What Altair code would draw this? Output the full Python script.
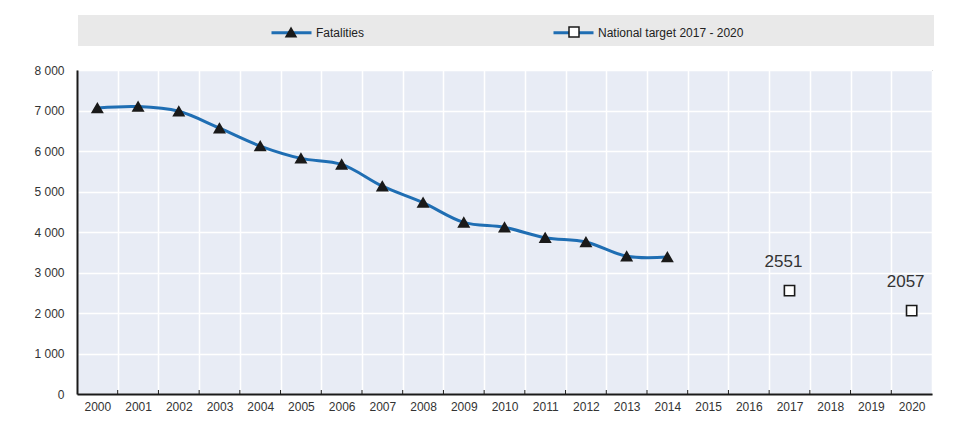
import altair as alt
import pandas as pd

years_all = [str(y) for y in range(2000, 2021)]
fat_years = [str(y) for y in range(2000, 2015)]
fat_values = [7061, 7096, 6980, 6563, 6122, 5818, 5669, 5131, 4725, 4237, 4114, 3860, 3753, 3401, 3381]
tgt_years = ["2017", "2020"]
tgt_values = [2551, 2057]
y_ticks = [0, 1000, 2000, 3000, 4000, 5000, 6000, 7000, 8000]
s_fat = "Fatalities"
s_tgt = "National target  2017 - 2020"

BLUE = "#1f6eb3"
INK = "#1a1a1a"
FONT = "Liberation Sans"
W, H = 855, 324

df_fat = pd.DataFrame({"year": fat_years, "value": fat_values, "series": s_fat})
df_tgt = pd.DataFrame({"year": tgt_years, "value": tgt_values, "series": s_tgt})
df_pts = pd.concat([df_fat, df_tgt], ignore_index=True)
df_ticks = pd.DataFrame({"year": years_all[1:]})

x_scale = alt.Scale(type="band", domain=years_all, paddingInner=0, paddingOuter=0)
y_scale = alt.Scale(domain=[0, 8000], nice=False)

x_axis = alt.Axis(
    title=None, tickBand="extent", grid=True, gridColor="white", gridWidth=1.5,
    ticks=False, domainColor=INK, domainWidth=2, labelPadding=7,
    labelFont=FONT, labelFontSize=12, labelColor="#333", labelAngle=0,
)
y_axis = alt.Axis(
    title=None, values=y_ticks, grid=True, gridColor="white", gridWidth=1.5,
    ticks=False, domainColor=INK, domainWidth=2, labelPadding=13,
    labelFont=FONT, labelFontSize=12, labelColor="#333",
    labelExpr="replace(format(datum.value, ','), ',', ' ')",
)

X = alt.X("year:O", scale=x_scale, axis=x_axis, bandPosition=0.5)
Y = alt.Y("value:Q", scale=y_scale, axis=y_axis)

band = alt.Chart(pd.DataFrame({"a": [0]})).mark_rect(color="#e9e9e9").encode(
    x=alt.value(1), x2=alt.value(857), y=alt.value(-55), y2=alt.value(-24)
)

line_legend = alt.Legend(
    title=None, orient="none", legendX=193, legendY=-59, direction="horizontal",
    columns=2, symbolType="stroke", symbolSize=1600, symbolStrokeWidth=3,
    symbolStrokeColor=BLUE, labelOffset=3, columnPadding=182, padding=0,
    labelFont=FONT, labelFontSize=12, labelColor="#222", labelLimit=300,
)
line = alt.Chart(df_fat).mark_line(interpolate="catmull-rom", strokeWidth=3).encode(
    x=X, y=Y,
    color=alt.Color("series:N", scale=alt.Scale(domain=[s_fat, s_tgt], range=[BLUE, BLUE]),
                    legend=line_legend),
)

pt_legend = alt.Legend(
    title=None, orient="none", legendX=193, legendY=-44, direction="horizontal",
    columns=2, symbolSize=100, symbolOffset=15, symbolStrokeColor=INK,
    symbolStrokeWidth=1.5, labelOffset=0, columnPadding=254, padding=0,
    labelExpr="''", labelFontSize=1, labelLimit=300,
)
points = alt.Chart(df_pts).mark_point(filled=False, strokeWidth=1.6, opacity=1).encode(
    x=X, y=Y,
    shape=alt.Shape("series:N", scale=alt.Scale(range=["triangle-up", "square"]), legend=pt_legend),
    fill=alt.Fill("series:N", scale=alt.Scale(range=[INK, "white"]), legend=pt_legend),
    stroke=alt.Stroke("series:N", scale=alt.Scale(range=[INK, INK]), legend=pt_legend),
    size=alt.value(105),
)

labels = alt.Chart(df_tgt).mark_text(
    font=FONT, fontSize=17, color="#333", dx=-6, dy=-24, baseline="alphabetic", align="center"
).encode(x=X, y=Y, text=alt.Text("value:Q", format="d"))

ticks = alt.Chart(df_ticks).mark_rule(color=INK, strokeWidth=1).encode(
    x=alt.X("year:O", scale=x_scale, axis=x_axis, bandPosition=0),
    y=alt.value(H - 4), y2=alt.value(H),
)

chart = alt.layer(band, line, points, labels, ticks).resolve_scale(
    color="independent", shape="independent", fill="independent", stroke="independent"
).properties(
    width=W, height=H,
    autosize=alt.AutoSizeParams(type="none"),
    padding={"left": 69, "top": 62, "right": 18, "bottom": 34},
).configure_view(fill="#e8ecf5", stroke="#444", strokeWidth=1)

chart.save("out.html", embed_options={"renderer": "svg", "actions": False})
